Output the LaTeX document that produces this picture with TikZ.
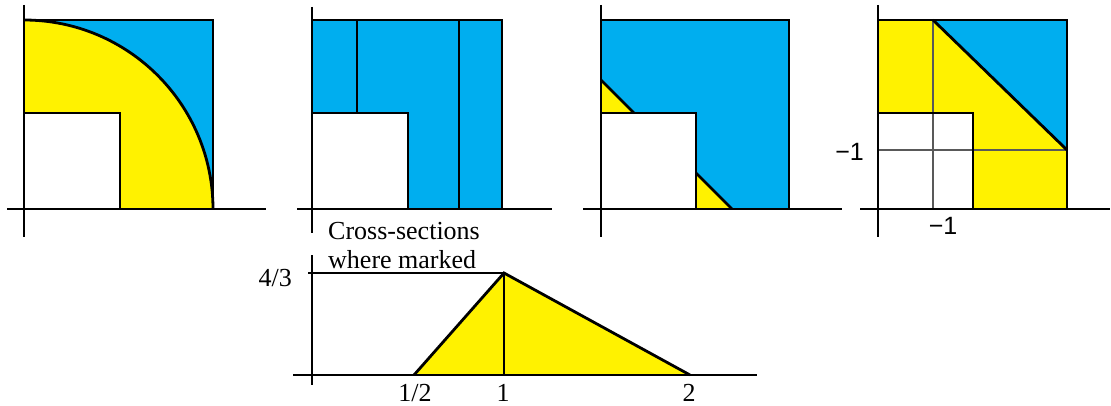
\documentclass[tikz,border=0pt]{standalone}
\usepackage{fontspec}
\setmainfont{Liberation Serif}
\newfontfamily\labsans{Liberation Sans}
\definecolor{cyanfill}{RGB}{0,174,239}
\definecolor{yelfill}{RGB}{255,242,0}
\begin{document}
\begin{tikzpicture}[x=1pt,y=-1pt,
  thickline/.style={line width=2.8pt, line join=miter},
  thinline/.style={line width=1.2pt, black},
  gridline/.style={line width=1.1pt, black!65},
  axisline/.style={line width=2.8pt},
  serlabel/.style={inner sep=0pt, font=\fontsize{26}{28}\selectfont},
  sanslabel/.style={inner sep=0pt, font=\labsans\fontsize{25}{28}\selectfont},
]
\useasboundingbox (0,0) rectangle (1111,406);

% ---------- Panel 1 ----------
\fill[cyanfill] (24,20) rectangle (213,209);
\begin{scope}
  \clip (24,20) rectangle (213,209);
  \fill[yelfill] (24,209) circle[radius=189pt];
\end{scope}
\fill[white] (24,113) rectangle (120,209);
\begin{scope}
  \clip (24,18) rectangle (215,209);
  \draw[thickline] (24,209) circle[radius=189pt];
\end{scope}
\draw[thickline] (24,20) -- (213,20) -- (213,209);
\draw[thickline] (24,113) -- (120,113) -- (120,209);
\draw[axisline] (24,5) -- (24,237);
\draw[axisline] (7,209) -- (266,209);

% ---------- Panel 2 ----------
\fill[cyanfill] (312,20) rectangle (502,209);
\fill[white] (312,113) rectangle (408,209);
\draw[thickline] (357,20) -- (357,113);
\draw[thickline] (459,20) -- (459,209);
\draw[thickline] (312,20) -- (502,20) -- (502,209);
\draw[thickline] (312,113) -- (408,113) -- (408,209);
\draw[axisline] (312,7) -- (312,233);
\draw[axisline] (297,209) -- (552,209);
\node[serlabel, anchor=base west] (cs1) at (328,240) {Cross-sections};
\node[serlabel, anchor=base west] (cs2) at (328,268) {where marked};

% ---------- Panel 3 ----------
\fill[cyanfill] (601,20) rectangle (789,209);
\fill[white] (601,113) rectangle (696,209);
\fill[yelfill] (601,80) -- (601,113) -- (634,113) -- cycle;
\fill[yelfill] (696,173) -- (696,209) -- (732,209) -- cycle;
\draw[thickline] (601,80) -- (634,113);
\draw[thickline] (696,173) -- (732,209);
\draw[thickline] (601,20) -- (789,20) -- (789,209);
\draw[thickline] (601,113) -- (696,113) -- (696,209);
\draw[axisline] (601,5) -- (601,237);
\draw[axisline] (583,209) -- (842,209);

% ---------- Panel 4 ----------
\fill[yelfill] (878,20) rectangle (1067,209);
\fill[cyanfill] (933,20) -- (1067,20) -- (1067,150) -- cycle;
\fill[white] (878,113) rectangle (973,209);
\draw[gridline] (933,20) -- (933,209);
\draw[gridline] (878,150) -- (1067,150);
\draw[thickline] (933,20) -- (1067,150);
\draw[thickline] (878,20) -- (1067,20) -- (1067,209);
\draw[thickline] (878,113) -- (973,113) -- (973,209);
\draw[axisline] (878,5) -- (878,237);
\draw[axisline] (860,209) -- (1110,209);
\node[sanslabel, anchor=base east] (m1y) at (864,161) {−1};
\node[sanslabel, anchor=base] (m1x) at (943,235) {−1};

% ---------- Bottom graph ----------
\coordinate (lo) at (414,375);
\coordinate (ap) at (504,273);
\coordinate (hi) at (690,375);
\coordinate (foot) at (504,375);
\coordinate (tick) at (308,273);
\fill[yelfill] (lo) -- (ap) -- (hi) -- cycle;
\draw[thinline] (ap) -- (foot);
\draw[thinline] (tick) -- (ap);
\draw[thickline] (lo) -- (ap) -- (hi);
\draw[axisline] (312,255) -- (312,385);
\draw[axisline] (293,375) -- (757,375);
\node[serlabel, anchor=base east] (l43) at (292,286) {4/3};
\node[serlabel, anchor=base] (l12) at (415,401) {1/2};
\node[serlabel, anchor=base] (l1) at (503,401) {1};
\node[serlabel, anchor=base] (l2) at (689,401) {2};
\end{tikzpicture}
\end{document}
